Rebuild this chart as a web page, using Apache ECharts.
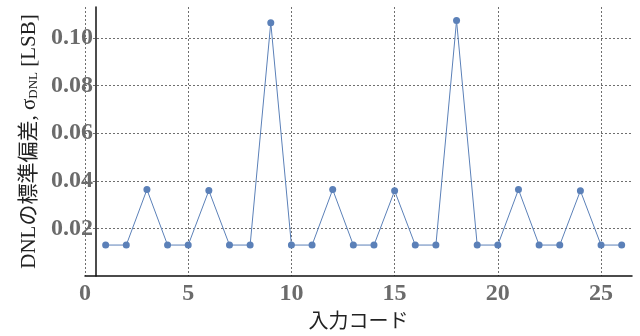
<!DOCTYPE html>
<html>
<head>
<meta charset="utf-8">
<script src="https://cdn.jsdelivr.net/npm/echarts@6/dist/echarts.min.js"></script>
<style>
  html, body { margin: 0; padding: 0; background: #fff; }
  #main { width: 640px; height: 336px; }
</style>
</head>
<body>
<div id="main"></div>
<script>
// 入力コード 1..26
var codes = [1, 2, 3, 4, 5, 6, 7, 8, 9, 10, 11, 12, 13, 14, 15, 16, 17, 18, 19, 20, 21, 22, 23, 24, 25, 26];
var sigmaDnl = [0.0130, 0.0130, 0.0363, 0.0130, 0.0130, 0.0359, 0.0130, 0.0130, 0.1064, 0.0130,
                0.0130, 0.0363, 0.0130, 0.0130, 0.0358, 0.0130, 0.0130, 0.1073, 0.0130, 0.0130,
                0.0363, 0.0130, 0.0130, 0.0358, 0.0130, 0.0130];
var xTicks = [0, 5, 10, 15, 20, 25];
var yTicks = [0.02, 0.04, 0.06, 0.08, 0.10];

var serif = '"Liberation Serif", "Noto Sans CJK JP", serif';
var gridLine = { show: true, showMaxLine: false, lineStyle: { color: '#6f6f6f', type: [2, 2], width: 1 } };
var tickLabel = {
    color: '#6b6b6b',
    fontFamily: serif,
    fontWeight: 'bold',
    fontSize: 24
};

var chart = echarts.init(document.getElementById('main'), null, { renderer: 'canvas' });

var option = {
    animation: false,
    grid: { left: 85, right: 8, top: 7, bottom: 60, containLabel: false, outerBoundsMode: 'none' },
    xAxis: {
        type: 'value',
        min: 0,
        max: 26.5,
        interval: 5,
        name: '入力コード',
        nameLocation: 'middle',
        nameGap: 37,
        nameTextStyle: { color: '#222', fontFamily: serif, fontSize: 20 },
        axisLine: { show: true, onZero: false, lineStyle: { color: '#111', width: 1.5 } },
        axisTick: { show: false },
        axisLabel: Object.assign({ margin: 6, showMaxLabel: false }, tickLabel),
        splitLine: gridLine
    },
    yAxis: {
        type: 'value',
        min: 0,
        max: 0.113,
        interval: 0.02,
        offset: -11,
        name: '{a|DNLの標準偏差, σ}{sub|DNL}{a| [LSB]}',
        nameLocation: 'middle',
        nameGap: 56,
        nameTextStyle: {
            color: '#222',
            fontFamily: serif,
            fontSize: 21,
            rich: {
                a: { fontFamily: serif, fontSize: 21, color: '#222', lineHeight: 24, verticalAlign: 'bottom' },
                sub: { fontFamily: serif, fontSize: 13, color: '#222', lineHeight: 24, verticalAlign: 'bottom', padding: [9, 0, 0, 0] }
            }
        },
        axisLine: { show: true, lineStyle: { color: '#111', width: 1.5 } },
        axisTick: { show: false },
        axisLabel: Object.assign({
            margin: 3,
            showMinLabel: false,
            showMaxLabel: false,
            formatter: function (v) { return v.toFixed(2); }
        }, tickLabel),
        splitLine: { show: true, showMinLine: false, showMaxLine: false, lineStyle: { color: '#6f6f6f', type: [2, 2], width: 1 } }
    },
    series: [{
        type: 'line',
        data: codes.map(function (c, i) { return [c, sigmaDnl[i]]; }),
        symbol: 'circle',
        symbolSize: 7,
        itemStyle: { color: '#5b80b8' },
        lineStyle: { color: '#5b80b8', width: 1 }
    }]
};

chart.setOption(option);
</script>
</body>
</html>
